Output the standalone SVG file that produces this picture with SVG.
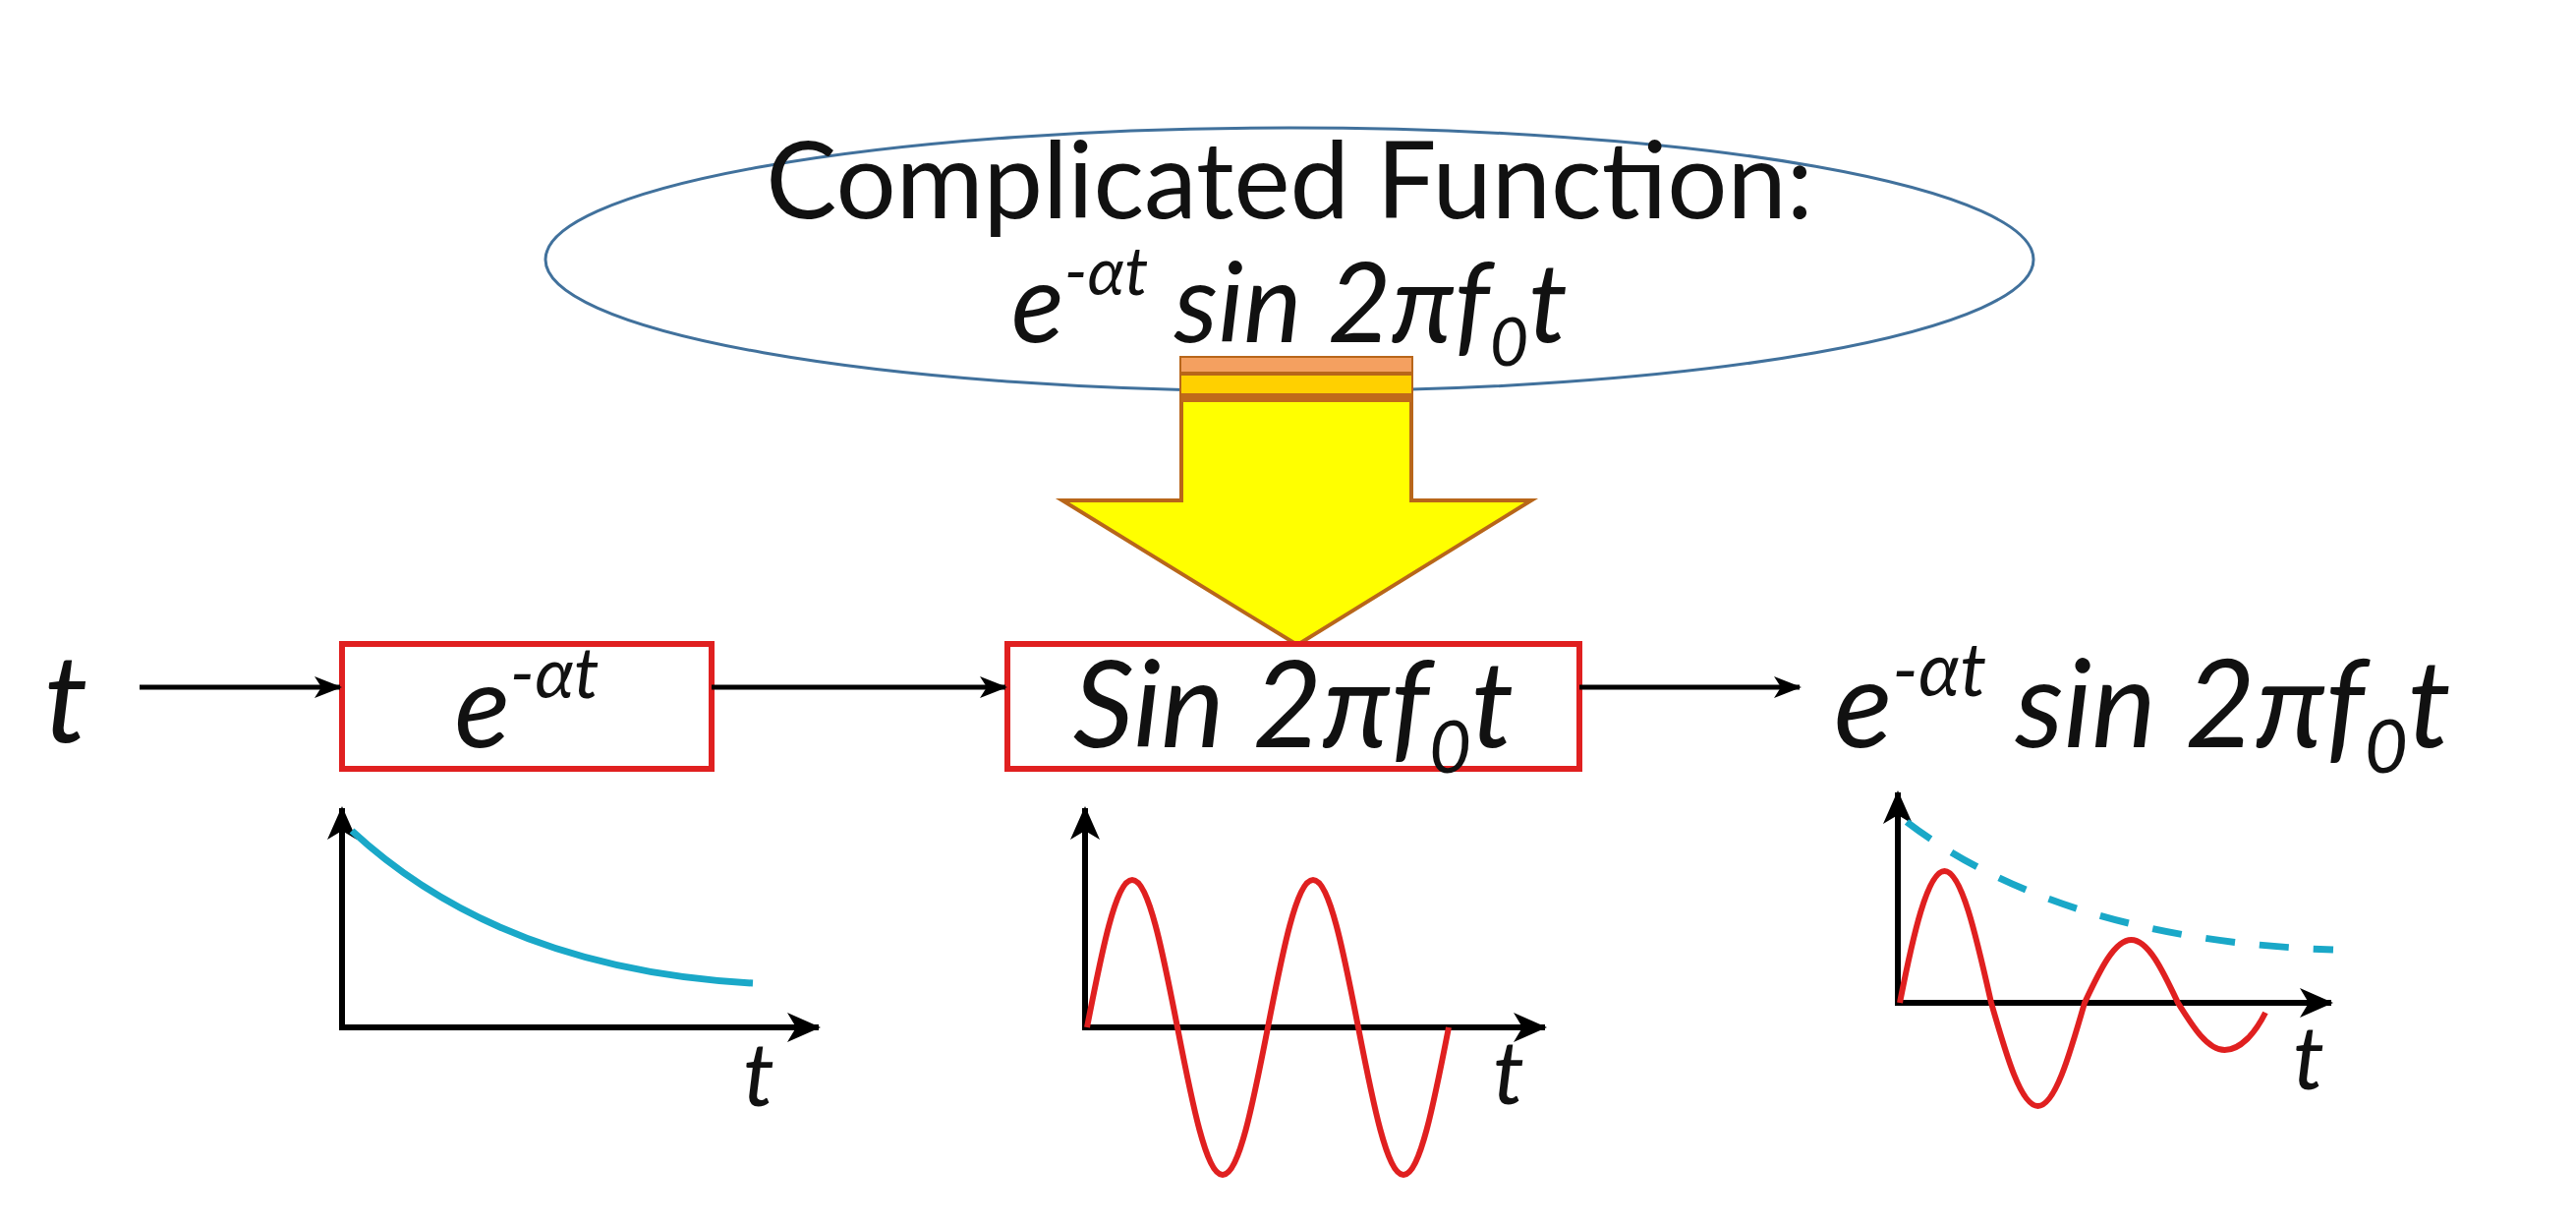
<svg xmlns="http://www.w3.org/2000/svg" width="2621" height="1246" viewBox="0 0 2621 1246">
<defs>
<style>
.t{font-family:Lato,"Open Sans","Liberation Sans",sans-serif;fill:#111}
.i{font-style:italic}
.box{fill:#fff;stroke:#e02020;stroke-width:6}
.ax{stroke:#000;stroke-width:6;fill:none}
.conn{stroke:#000;stroke-width:5;fill:none}
.red{stroke:#e02020;stroke-width:6;fill:none}
.blue{stroke:#1aa8c8;stroke-width:7;fill:none}
</style>
<marker id="ah" viewBox="0 0 28 22" refX="26" refY="11" markerWidth="28" markerHeight="22" markerUnits="userSpaceOnUse" orient="auto">
<path d="M0,0 L28,11 L0,22 L7,11 Z" fill="#000"/>
</marker>
<marker id="ax" viewBox="0 0 34 30" refX="32" refY="15" markerWidth="34" markerHeight="30" markerUnits="userSpaceOnUse" orient="auto-start-reverse">
<path d="M0,0 L34,15 L0,30 L9,15 Z" fill="#000"/>
</marker>
</defs>
<rect width="2621" height="1246" fill="#fff"/>
<g id="cloud">
<ellipse cx="1312" cy="264" rx="757" ry="134" fill="#fff" stroke="#41719c" stroke-width="3"/>
<text class="t" x="1312" y="222" font-size="108" text-anchor="middle">Complicated Function:</text>
<text class="t i" x="1312" y="348" font-size="112" text-anchor="middle">e<tspan font-size="68" dy="-48">-αt</tspan><tspan dy="48"> sin 2πf</tspan><tspan font-size="68" dy="24">0</tspan><tspan dy="-24">t</tspan></text>
</g>
<g id="bigarrow">
<path d="M1202,364 L1436,364 L1436,509 L1558,509 L1320,656 L1081,509 L1202,509 Z" fill="#ffff00" stroke="#b8661a" stroke-width="4"/>
<rect x="1202" y="364" width="234" height="14" fill="#f4a060"/>
<rect x="1202" y="378" width="234" height="4" fill="#b8661a"/>
<rect x="1202" y="382" width="234" height="18" fill="#ffd000"/>
<rect x="1202" y="400" width="234" height="9" fill="#c06a1a"/>
</g>
<g id="input">
<text class="t i" x="45" y="755" font-size="125">t</text>
</g>
<g id="box1">
<rect class="box" x="348" y="655" width="376" height="127"/>
<text class="t i" x="536" y="760" font-size="118" text-anchor="middle">e<tspan font-size="72" dy="-50">-αt</tspan></text>
</g>
<g id="box2">
<rect class="box" x="1025" y="655" width="582" height="127"/>
<text class="t i" x="1316" y="760" font-size="122" text-anchor="middle">Sin 2πf<tspan font-size="74" dy="26">0</tspan><tspan dy="-26">t</tspan></text>
</g>
<g id="output">
<text class="t i" x="1866" y="760" font-size="124">e<tspan font-size="76" dy="-52">-αt</tspan><tspan dy="52"> sin 2πf</tspan><tspan font-size="76" dy="26">0</tspan><tspan dy="-26">t</tspan></text>
</g>
<g id="connectors">
<line class="conn" x1="142" y1="699" x2="346" y2="699" marker-end="url(#ah)"/>
<line class="conn" x1="724" y1="699" x2="1023" y2="699" marker-end="url(#ah)"/>
<line class="conn" x1="1607" y1="699" x2="1831" y2="699" marker-end="url(#ah)"/>
</g>
<g id="graph1">
<polyline class="ax" points="348,822 348,1045 833,1045" marker-start="url(#ax)" marker-end="url(#ax)"/>
<path class="blue" d="M358,845 C450,930 580,990 766,1000"/>
<text class="t i" x="772" y="1125" font-size="90" text-anchor="middle">t</text>
</g>
<g id="graph2">
<polyline class="ax" points="1104,822 1104,1045 1572,1045" marker-start="url(#ax)" marker-end="url(#ax)"/>
<path class="red" d="M1106,1045 C1121,968 1135.3,895 1152,895 C1168.7,895 1183,968 1198,1045 C1213,1122 1227.3,1195 1244,1195 C1260.7,1195 1275,1122 1290,1045 C1305,968 1319.3,895 1336,895 C1352.7,895 1367,968 1382,1045 C1397,1122 1411.3,1195 1428,1195 C1444.7,1195 1459,1122 1474,1045"/>
<text class="t i" x="1535" y="1123" font-size="90" text-anchor="middle">t</text>
</g>
<g id="graph3">
<polyline class="ax" points="1931,806 1931,1020 2372,1020" marker-start="url(#ax)" marker-end="url(#ax)"/>
<path class="blue" stroke-dasharray="30 25" d="M1940,836 C2050,920 2200,960 2374,966"/>
<path class="red" d="M1933,1020 C1946.5,951 1961.3,886 1978.5,886 C1995.7,886 2010.5,951 2026,1020 C2041.5,1074 2056.3,1125 2073.5,1125 C2090.7,1125 2105.5,1074 2121,1020 C2136.5,987 2151.3,956 2168.5,956 C2185.7,956 2200.5,987 2216,1020 C2231.5,1045 2246.3,1068 2263.5,1068 C2280,1068 2295,1050 2305,1030"/>
<text class="t i" x="2349" y="1108" font-size="90" text-anchor="middle">t</text>
</g>
</svg>
